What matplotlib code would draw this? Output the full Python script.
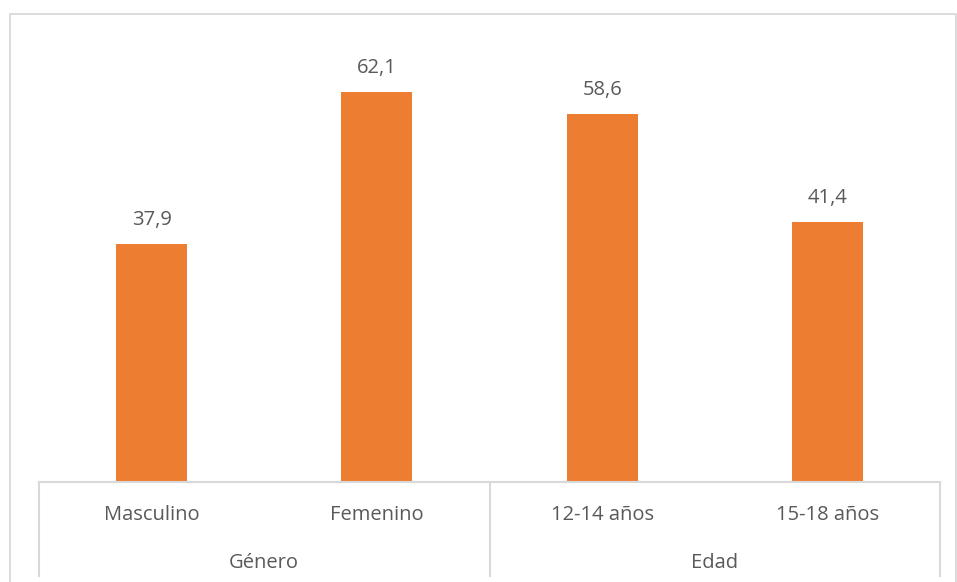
import matplotlib.pyplot as plt
from matplotlib.patches import Rectangle
from matplotlib.lines import Line2D

categorias = ["Masculino", "Femenino", "12-14 años", "15-18 años"]
valores = [37.9, 62.1, 58.6, 41.4]
grupos = ["Género", "Edad"]
tam_grupo = [2, 2]

W, H = 957, 582
naranja = "#ED7D31"
gris_linea = "#D9D9D9"
gris_texto = "#595959"
fs = 14.5

plt.rcParams['font.family'] = ['Open Sans', 'DejaVu Sans']

fig = plt.figure(figsize=(W / 100, H / 100), dpi=100)

# marco del grafico (el borde inferior queda fuera de la imagen)
fig.patches.append(Rectangle((9.5 / W, -0.1), (956 - 9.5) / W, 1.1 - 13.5 / H,
                             transform=fig.transFigure, fill=False,
                             edgecolor=gris_linea, linewidth=1.3))

x0, x1 = 39, 940
y_base, y_top = 482, 42
ax = fig.add_axes([x0 / W, (H - y_base) / H, (x1 - x0) / W, (y_base - y_top) / H])

pos = list(range(len(categorias)))
barras = ax.bar(pos, valores, width=0.315, color=naranja)
ax.set_xlim(-0.5, len(categorias) - 0.5)
ax.set_ylim(0, 70)
ax.axis("off")

for b, v in zip(barras, valores):
    ax.annotate(f"{v:.1f}".replace(".", ","), (b.get_x() + b.get_width() / 2, v),
                xytext=(0, 24), textcoords="offset pixels",
                ha="center", va="center", fontsize=fs, color=gris_texto)

# eje de categorias en dos niveles
def fy(py):
    return (H - py) / H

def fx(px):
    return px / W

paso = (x1 - x0) / len(categorias)
fig.add_artist(Line2D([fx(x0), fx(x1)], [fy(y_base), fy(y_base)],
                      color=gris_linea, linewidth=1.5))
inicio = 0
limites = [0]
for n in tam_grupo:
    inicio += n
    limites.append(inicio)
for k in limites:
    px = x0 + k * paso
    fig.add_artist(Line2D([fx(px), fx(px)], [fy(y_base), fy(576)],
                          color=gris_linea, linewidth=1.5))

for i, c in enumerate(categorias):
    fig.text(fx(x0 + (i + 0.5) * paso), fy(515), c, ha="center", va="center",
             fontsize=fs, color=gris_texto)

for g, a, b in zip(grupos, limites[:-1], limites[1:]):
    fig.text(fx(x0 + (a + b) / 2 * paso), fy(563), g, ha="center", va="center",
             fontsize=fs, color=gris_texto)

fig.savefig("out.png", dpi=100, facecolor="white")
